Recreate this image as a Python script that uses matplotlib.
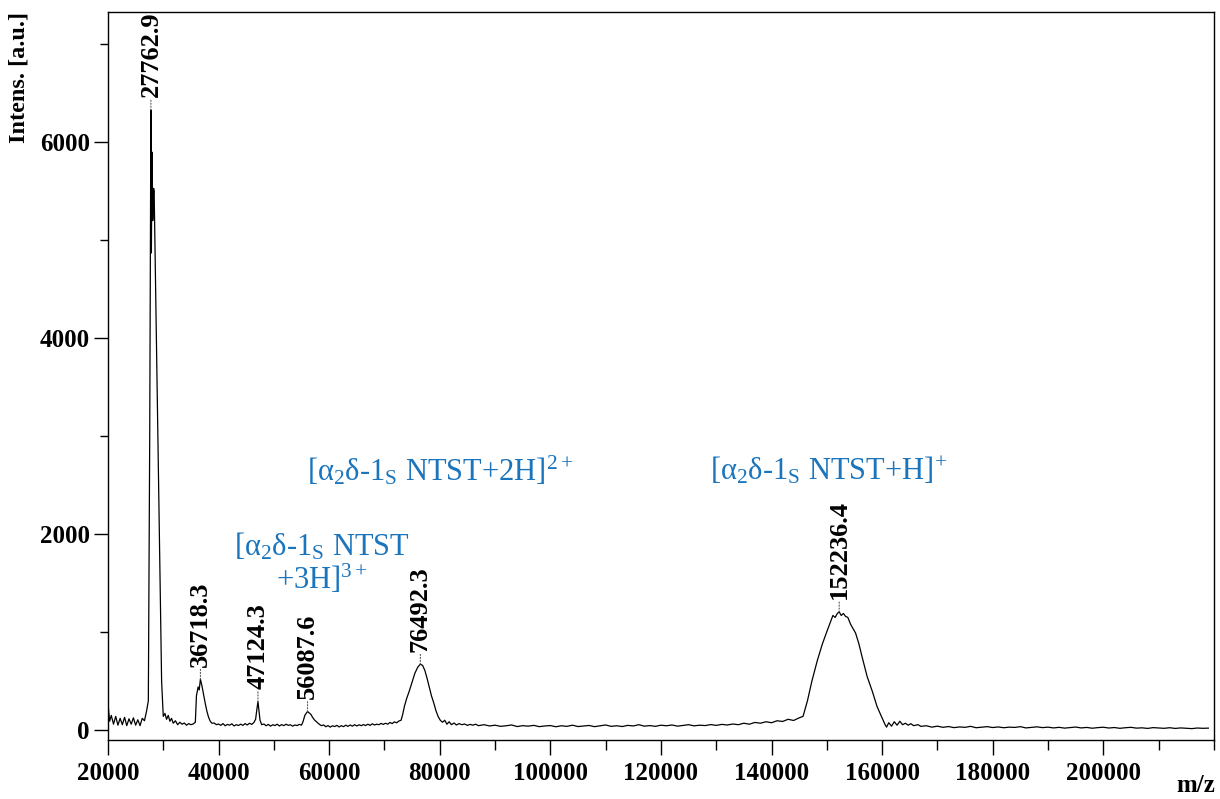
import matplotlib
matplotlib.use("Agg")
import matplotlib.pyplot as plt
from matplotlib.ticker import MultipleLocator

plt.rcParams["font.family"] = ["Liberation Serif", "DejaVu Serif"]
plt.rcParams["mathtext.fontset"] = "custom"
plt.rcParams["mathtext.rm"] = "Liberation Serif"
plt.rcParams["mathtext.it"] = "Liberation Serif:italic"
plt.rcParams["mathtext.bf"] = "Liberation Serif:bold"

# spectrum (m/z, intensity)
mz = [
    20000, 20300, 20600, 21000, 21400, 21800, 22200, 22600, 23000, 23400,
    23800, 24200, 24600, 25000, 25400, 25800, 26200, 26600, 27000, 27300,
    27550, 27763, 27850, 27950, 28100, 28250, 28350, 28800, 29250, 29700,
    30000, 30300, 30600, 30900, 31200, 31500, 31800, 32200, 32600, 33000,
    33400, 33800, 34200, 34600, 35000, 35400, 35800, 36000, 36300, 36500,
    36718, 37000, 37300, 37600, 37900, 38200, 38500, 38800, 39200, 39600,
    40000, 40400, 40800, 41200, 41600, 42000, 42400, 42800, 43200, 43600,
    44000, 44400, 44800, 45200, 45600, 46000, 46400, 46700, 46900, 47124,
    47300, 47500, 47800, 48200, 48600, 49000, 49400, 49800, 50200, 50600,
    51000, 51400, 51800, 52200, 52600, 53000, 53400, 53800, 54200, 54600,
    55000, 55300, 55600, 55850, 56087, 56400, 56700, 57000, 57400, 57800,
    58200, 58600, 59000, 59400, 59800, 60200, 60600, 61000, 61400, 61800,
    62200, 62600, 63000, 63400, 63800, 64200, 64600, 65000, 65400, 65800,
    66200, 66600, 67000, 67400, 67800, 68200, 68600, 69000, 69400, 69800,
    70200, 70600, 71000, 71400, 71800, 72200, 72600, 73000, 73300, 73600,
    74000, 74500, 75000, 75500, 76000, 76492, 76900, 77300, 77700, 78100,
    78500, 78900, 79300, 79700, 80100, 80500, 80900, 81300, 81700, 82100,
    82600, 83000, 83500, 84000, 84500, 85000, 85500, 86000, 86500, 87000,
    88000, 89000, 90000, 91000, 92000, 93000, 94000, 95000, 96000, 97000,
    98000, 99000, 100000, 101000, 102000, 103000, 104000, 105000, 106000, 107000,
    108000, 109000, 110000, 111000, 112000, 113000, 114000, 115000, 116000, 117000,
    118000, 119000, 120000, 121000, 122000, 123000, 124000, 125000, 126000, 127000,
    128000, 129000, 130000, 131000, 132000, 133000, 134000, 135000, 136000, 137000,
    138000, 139000, 140000, 141000, 142000, 143000, 144000, 145000, 145700, 146500,
    147300, 148300, 149200, 150100, 150700, 151100, 151500, 151900, 152236, 152600,
    153000, 153400, 153800, 154300, 154700, 155200, 155800, 156500, 157300, 158200,
    159100, 159800, 160500, 160800, 161200, 161700, 162200, 162700, 163200, 163700,
    164200, 164700, 165200, 165700, 166500, 167000, 168000, 169000, 170000, 171000,
    172000, 173000, 174000, 175000, 176000, 177000, 178000, 179000, 180000, 181000,
    182000, 183000, 184000, 185000, 186000, 187000, 188000, 189000, 190000, 191000,
    192000, 193000, 194000, 195000, 196000, 197000, 198000, 199000, 200000, 201000,
    202000, 203000, 204000, 205000, 206000, 207000, 208000, 209000, 210000, 211000,
    212000, 213000, 214000, 215000, 216000, 217000, 218000, 219000,
]
intens = [
    270, 90, 150, 60, 140, 50, 120, 55, 130, 45,
    115, 60, 125, 50, 105, 45, 120, 95, 200, 300,
    3000, 6330, 4870, 5900, 5200, 5530, 5500, 3850, 2180, 500,
    140, 170, 110, 150, 90, 120, 70, 95, 55, 80,
    60, 72, 50, 66, 55, 62, 80, 350, 440, 410,
    520, 450, 360, 270, 190, 130, 90, 70, 72, 55,
    62, 48, 66, 44, 58, 50, 64, 42, 55, 47,
    60, 48, 66, 52, 70, 58, 78, 110, 200, 290,
    200, 100, 55, 62, 44, 58, 40, 55, 46, 60,
    42, 56, 45, 60, 48, 54, 40, 52, 46, 58,
    50, 90, 150, 170, 190, 175, 160, 130, 100, 80,
    60, 45, 52, 34, 46, 30, 44, 36, 48, 32,
    45, 35, 50, 38, 52, 40, 55, 42, 54, 45,
    56, 46, 60, 48, 64, 52, 60, 55, 68, 58,
    70, 60, 78, 66, 84, 74, 92, 100, 160, 240,
    320, 400, 490, 580, 640, 673, 660, 610, 530, 440,
    350, 280, 200, 140, 100, 80, 100, 60, 85, 55,
    72, 52, 66, 55, 62, 48, 58, 50, 60, 45,
    55, 42, 50, 38, 44, 52, 36, 45, 40, 48,
    35, 42, 46, 34, 44, 38, 50, 36, 41, 47,
    35, 43, 52, 38, 44, 36, 48, 42, 55, 40,
    46, 38, 50, 44, 52, 40, 47, 55, 43, 50,
    46, 56, 48, 58, 52, 62, 55, 70, 60, 78,
    70, 85, 75, 95, 88, 110, 98, 125, 140, 300,
    500, 714, 880, 1020, 1110, 1170, 1150, 1190, 1207, 1170,
    1190, 1160, 1150, 1080, 1040, 990, 880, 720, 545, 400,
    238, 150, 60, 30, 75, 40, 85, 50, 90, 55,
    70, 50, 65, 45, 55, 38, 44, 30, 40, 28,
    36, 25, 32, 28, 38, 24, 30, 35, 26, 32,
    24, 30, 27, 35, 22, 28, 33, 25, 30, 22,
    28, 20, 26, 31, 22, 27, 19, 25, 29, 21,
    26, 18, 24, 28, 20, 23, 17, 25, 21, 18,
    24, 17, 22, 19, 15, 21, 18, 20,
]

# labelled peaks
peak_mz = [27763, 36718, 47124, 56088, 76492, 152236]
peak_int = [6330, 520, 290, 190, 673, 1207]
peak_labels = ["27762.9", "36718.3", "47124.3", "56087.6", "76492.3", "152236.4"]

# species annotations (text, x, y, horizontal alignment)
species_text = [
    "[α$_\\mathrm{2}$δ-1$_\\mathrm{S}$ NTST\n+3H]$^\\mathrm{3+}$",
    "[α$_\\mathrm{2}$δ-1$_\\mathrm{S}$ NTST+2H]$^\\mathrm{2+}$",
    "[α$_\\mathrm{2}$δ-1$_\\mathrm{S}$ NTST+H]$^\\mathrm{+}$",
]
species_x = [58700, 56000, 128900]
species_y = [1700, 2650, 2650]
species_ha = ["center", "left", "left"]

BLUE = "#1b75bc"

fig = plt.figure(figsize=(12.2, 7.99), dpi=100)
ax = fig.add_axes([0.0885, 0.074, 0.9065, 0.911])

ax.plot(mz, intens, color="black", linewidth=0.9)

# peak labels with dotted leader
for x, y, lab in zip(peak_mz, peak_int, peak_labels):
    ax.annotate(lab, xy=(x, y), xytext=(0, 9), textcoords="offset points",
                rotation=90, ha="center", va="bottom",
                fontsize=19, fontweight="bold",
                arrowprops=dict(arrowstyle="-", linestyle=":", color="#555555",
                                linewidth=0.8, shrinkA=0, shrinkB=0))

for t, x, y, ha in zip(species_text, species_x, species_y, species_ha):
    ax.text(x, y, t, color=BLUE, fontsize=22, ha=ha, va="center",
            multialignment="center", linespacing=1.0)

ax.set_xlim(20000, 220000)
ax.set_ylim(-100, 7330)
ax.xaxis.set_major_locator(MultipleLocator(20000))
ax.xaxis.set_minor_locator(MultipleLocator(10000))
ax.yaxis.set_major_locator(MultipleLocator(2000))
ax.yaxis.set_minor_locator(MultipleLocator(1000))
ax.set_xticks(range(20000, 220000, 20000))

ax.tick_params(axis="x", which="major", direction="out", length=11, width=1, pad=5)
ax.tick_params(axis="x", which="minor", direction="out", length=7, width=1)
ax.tick_params(axis="y", which="major", direction="out", length=10, width=1, pad=3)
ax.tick_params(axis="y", which="minor", direction="out", length=6, width=1)
for lab in ax.get_xticklabels() + ax.get_yticklabels():
    lab.set_fontweight("bold")
    lab.set_fontsize(18)

for s in ax.spines.values():
    s.set_linewidth(1)

ax.text(-0.08, 1.0, "Intens. [a.u.]", transform=ax.transAxes, rotation=90,
        ha="center", va="top", fontsize=17.5, fontweight="bold")
ax.text(0.984, -0.062, "m/z", transform=ax.transAxes, ha="center", va="center",
        fontsize=18, fontweight="bold")

fig.savefig("out.png", dpi=100)
